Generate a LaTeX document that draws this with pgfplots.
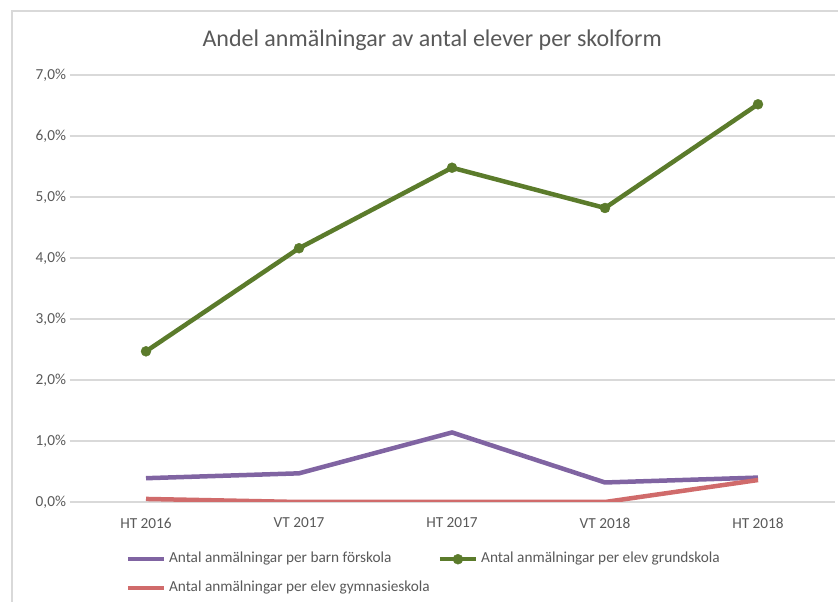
\documentclass[border=0pt]{standalone}
\usepackage{pgfplots}
\pgfplotsset{compat=1.18}
\usepackage{fontspec}
\setmainfont{Carlito}
\definecolor{txt}{HTML}{595959}
\definecolor{gridc}{HTML}{D9D9D9}
\definecolor{cpurple}{HTML}{8064A2}
\definecolor{cgreen}{HTML}{5B7B2B}
\definecolor{cred}{HTML}{D06B6B}
\begin{document}
\begin{tikzpicture}[x=1pt,y=1pt]
\draw[gridc, line width=1.2pt] (12,-5) -- (12,591) -- (845,591);
\begin{axis}[
  at={(69.5pt,100pt)}, anchor=south west,
  scale only axis, width=765pt, height=427pt,
  xmin=-0.5, xmax=4.5, ymin=0, ymax=7,
  axis line style={draw=none},
  major tick length=0pt,
  ytick={0,1,2,3,4,5,6,7},
  yticklabels={{0,0\%},{1,0\%},{2,0\%},{3,0\%},{4,0\%},{5,0\%},{6,0\%},{7,0\%}},
  xtick={0,1,2,3,4},
  xticklabels={HT 2016,VT 2017,HT 2017,VT 2018,HT 2018},
  ymajorgrids,
  grid style={gridc, line width=1.3pt},
  tick label style={font=\fontsize{15.3}{18}\selectfont, text=txt},
  xticklabel style={yshift=-12.5pt},
  title={Andel anmälningar av antal elever per skolform},
  title style={font=\fontsize{24}{28}\selectfont, text=txt, at={(axis description cs:0.474,1.067)}, anchor=center},
  legend columns=2,
  legend cell align=left,
  legend style={draw=none, fill=none, inner sep=0pt,
    at={(axis description cs:0.073,-0.109)}, anchor=north west,
    font=\fontsize{15.3}{18}\selectfont, text=txt,
    nodes={inner sep=3pt, text height=11pt, text depth=4pt},
    row sep=8pt,
    /tikz/every even column/.append style={column sep=5pt}},
  legend image code/.code={\draw[#1,mark repeat=2,mark phase=2] plot coordinates {(0pt,0pt) (18pt,0pt) (36pt,0pt)};},
]
\addplot[cpurple, line width=4.5pt, no marks] coordinates {(0,0.39) (1,0.47) (2,1.14) (3,0.32) (4,0.40)};
\addlegendentry{Antal anmälningar per barn förskola}
\addplot[cgreen, line width=4.5pt, mark=*, mark size=5pt, mark options={solid, fill=cgreen, draw=cgreen, line width=0.4pt}] coordinates {(0,2.47) (1,4.16) (2,5.48) (3,4.82) (4,6.52)};
\addlegendentry{Antal anmälningar per elev grundskola}
\addplot[cred, line width=4.5pt, no marks] coordinates {(0,0.05) (1,0.00) (2,0.00) (3,0.00) (4,0.36)};
\addlegendentry{Antal anmälningar per elev gymnasieskola}
\end{axis}
\pgfresetboundingbox
\path[use as bounding box] (0pt,0pt) rectangle (838pt,602pt);
\end{tikzpicture}
\end{document}
